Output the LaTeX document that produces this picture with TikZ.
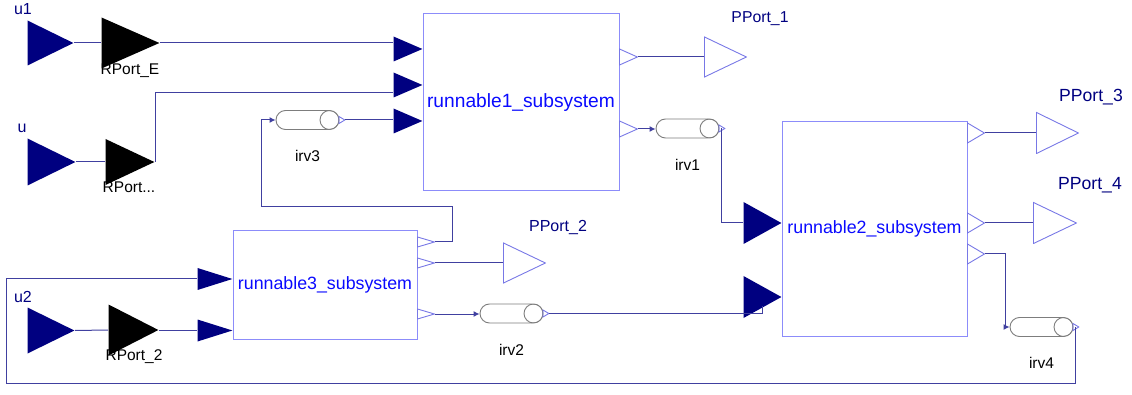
\documentclass[tikz,border=0pt]{standalone}
\usepackage{fontspec}
\setmainfont{Liberation Sans}
\usetikzlibrary{shapes.geometric, arrows.meta, positioning, calc}

\definecolor{portnavy}{RGB}{0,0,128}
\definecolor{wirecol}{RGB}{64,64,160}
\definecolor{sysedge}{RGB}{140,140,250}
\definecolor{outedge}{RGB}{120,120,230}
\definecolor{irvedge}{RGB}{125,125,125}
\definecolor{systext}{RGB}{10,10,255}

\begin{document}
\begin{tikzpicture}[x=1pt, y=-1pt,
    tri/.style={inner sep=0pt, outer sep=0pt, path picture={
        \path[#1] ([shift={(0.5pt,-0.5pt)}]path picture bounding box.north west)
            -- ([xshift=-0.6pt]path picture bounding box.east)
            -- ([shift={(0.5pt,0.5pt)}]path picture bounding box.south west) -- cycle;}},
    inport/.style={tri={fill=portnavy}},
    rport/.style={tri={fill=black}},
    outport/.style={tri={draw=outedge, line width=0.9pt}},
    subsys/.style={draw=sysedge, line width=1pt, fill=white, text=systext, inner sep=0pt,
        font=\fontsize{17.8}{19}\selectfont},
    irv/.style={draw=irvedge, line width=0.9pt, fill=white, inner sep=0pt, rounded corners=9.5pt,
        minimum width=63pt, minimum height=19pt,
        path picture={\draw[irvedge, line width=0.9pt]
            ([xshift=-9.5pt]path picture bounding box.east) circle (9.5pt);}},
    wire/.style={draw=wirecol, line width=1pt},
    arr/.style={-{Latex[length=6pt, width=6pt]}},
    lbl/.style={font=\fontsize{15.5}{17}\selectfont},
    inlbl/.style={text=portnavy, font=\fontsize{16}{17}\selectfont}]

    \useasboundingbox (0,0) rectangle (1132,395);

    % Subsystem blocks
    \node[subsys, minimum width=196pt, minimum height=177pt, font=\fontsize{19.2}{20}\selectfont]
        (r1) at (521,102.5) {runnable1\_subsystem};
    \node[subsys, minimum width=185pt, minimum height=214pt] (r2) at (874.5,229) {runnable2\_subsystem};
    \node[subsys, minimum width=184pt, minimum height=108pt] (r3) at (325,285) {runnable3\_subsystem};

    % runnable1 ports
    \foreach \i/\y in {1/49, 2/85, 3/121}
        \node[inport, minimum width=30pt, minimum height=26pt, anchor=east] (r1in\i) at (423,\y) {};
    \foreach \i/\y in {1/57, 2/129}
        \node[outport, minimum width=19pt, minimum height=17pt, anchor=west] (r1out\i) at (619,\y) {};

    % runnable2 ports
    \foreach \i/\y in {1/223, 2/297}
        \node[inport, minimum width=39pt, minimum height=43pt, anchor=east] (r2in\i) at (782,\y) {};
    \foreach \i/\y in {1/133, 2/223, 3/254}
        \node[outport, minimum width=18pt, minimum height=21pt, anchor=west] (r2out\i) at (967,\y) {};

    % runnable3 ports
    \foreach \i/\y in {1/279, 2/330.5}
        \node[inport, minimum width=36pt, minimum height=23pt, anchor=east] (r3in\i) at (233,\y) {};
    \foreach \i/\y in {1/242, 2/263, 3/314}
        \node[outport, minimum width=18pt, minimum height=11pt, anchor=west] (r3out\i) at (417,\y) {};

    % Inports and receiver ports
    \node[inport, minimum width=47pt, minimum height=46pt] (u1) at (50.5,43) {};
    \node[inport, minimum width=49pt, minimum height=48pt] (u) at (51.5,162) {};
    \node[inport, minimum width=48pt, minimum height=47pt] (u2) at (51,330.5) {};
    \node[rport, minimum width=59pt, minimum height=52pt] (rpE) at (130.5,43) {};
    \node[rport, minimum width=50pt, minimum height=47pt] (rpU) at (130,162) {};
    \node[rport, minimum width=51pt, minimum height=52pt] (rp2) at (133.5,330) {};

    \node[inlbl] (u1lbl) at (23,9) {u1};
    \node[inlbl] (ulbl) at (22,128) {u};
    \node[inlbl] (u2lbl) at (23,297) {u2};
    \node[lbl] (rpElbl) at (130,71) {RPort\_E};
    \node[lbl] (rpUlbl) at (129,187) {RPort...};
    \node[lbl] (rp2lbl) at (134,357) {RPort\_2};

    % Provider ports
    \node[outport, minimum width=43pt, minimum height=41pt] (pp1) at (725.5,57) {};
    \node[outport, minimum width=43pt, minimum height=41pt] (pp2) at (524.5,263) {};
    \node[outport, minimum width=43pt, minimum height=42pt] (pp3) at (1057.5,133) {};
    \node[outport, minimum width=44pt, minimum height=42pt] (pp4) at (1055,223) {};

    \node[lbl, text=portnavy, font=\fontsize{15.8}{17}\selectfont] (pp1lbl) at (760,19) {PPort\_1};
    \node[lbl, text=portnavy, font=\fontsize{16}{17}\selectfont] (pp2lbl) at (558,228) {PPort\_2};
    \node[lbl, text=portnavy, font=\fontsize{17.6}{19}\selectfont] (pp3lbl) at (1091,97) {PPort\_3};
    \node[lbl, text=portnavy, font=\fontsize{17.6}{19}\selectfont] (pp4lbl) at (1090,185) {PPort\_4};

    % Inter-runnable variables
    \foreach \n/\x/\y in {1/687.5/128.5, 2/511.5/313.5, 3/307.5/120, 4/1041.5/327} {
        \node[irv] (irv\n) at (\x,\y) {};
        \node[outport, minimum width=7pt, minimum height=8pt, anchor=west] (tip\n) at ([xshift=-1pt]irv\n.east) {};
        \node[lbl] (irvlbl\n) at ([yshift=-36pt]irv\n.center) {irv\n};
    }

    % Bend points
    \coordinate (loop3) at (452,207);
    \coordinate (fbl) at (6,383);

    % Wires
    \draw[wire] (u1.east) -- (rpE.west);
    \draw[wire] (rpE.east) -- (rpE.east -| r1in1.west);
    \draw[wire] (u.east) -- (rpU.west);
    \draw[wire] (rpU.east) |- ([yshift=-8pt]r1in2.west);
    \draw[wire] (tip3.east) -- (tip3.east -| r1in3.west);
    \draw[wire] (u2.east) -- (rp2.west);
    \draw[wire] (rp2.east) -- (rp2.east -| r3in2.west);

    \draw[wire] (r1out1.east) -- (r1out1.east -| pp1.west);
    \draw[wire, arr] (r1out2.east) -- (r1out2.east -| irv1.west);
    \draw[wire] (tip1.center) |- (r2in1.west);

    \draw[wire] (r2out1.east) -- (r2out1.east -| pp3.west);
    \draw[wire] (r2out2.east) -- (r2out2.east -| pp4.west);
    \draw[wire, arr] (r2out3.east) -| ([xshift=-4pt]irv4.west) -- (irv4.west);
    \draw[wire] (tip4.center) |- (fbl) |- (r3in1.west);

    \draw[wire, arr] (r3out1.east) -| (loop3) -| ([xshift=-14pt]irv3.west) -- (irv3.west);
    \draw[wire] (r3out2.east) -- (r3out2.east -| pp2.west);
    \draw[wire, arr] (r3out3.east) -- (r3out3.east -| irv2.west);
    \draw[wire] (tip2.east) -| ([xshift=-20pt, yshift=-9pt]r2in2.east);
\end{tikzpicture}
\end{document}
